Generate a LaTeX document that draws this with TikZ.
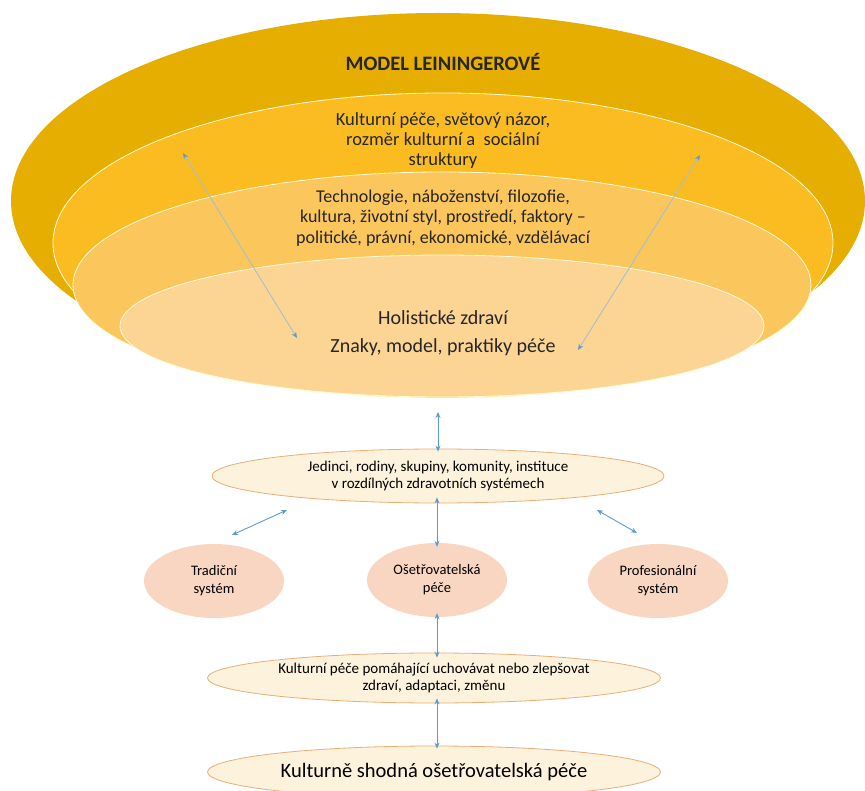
\documentclass[tikz,border=0pt]{standalone}
\usepackage{fontspec}
\setmainfont{Carlito}
\usetikzlibrary{shapes.geometric,arrows.meta}
\definecolor{gold1}{HTML}{E5AE00}
\definecolor{gold2}{HTML}{FBBC22}
\definecolor{gold3}{HTML}{FBC65C}
\definecolor{gold4}{HTML}{FCD595}
\definecolor{cream}{HTML}{FDF2DC}
\definecolor{creamline}{HTML}{E9AE78}
\definecolor{peach}{HTML}{F8D6C1}
\definecolor{arrowblue}{HTML}{5B9BD5}
\definecolor{arrowgray}{HTML}{A7BFCB}
\tikzset{
  layer/.style={ellipse, inner sep=0pt, draw=white!85!yellow, line width=0.8pt},
  creamell/.style={ellipse, inner sep=0pt, fill=cream, draw=creamline, line width=0.8pt, align=center},
  peachell/.style={ellipse, inner sep=0pt, fill=peach, minimum width=140pt, minimum height=74pt, font=\fontsize{14.5}{18}\selectfont, align=center},
  txt/.style={align=center, text=black!85, inner sep=0pt},
  biarrow/.style={arrowblue, line width=0.9pt, {Stealth[length=6pt,width=5pt]}-{Stealth[length=6pt,width=5pt]}},
  diagarrow/.style={arrowgray, line width=0.9pt, {Stealth[length=6pt,width=5pt,arrowblue]}-{Stealth[length=6pt,width=5pt,arrowblue]}},
}
\begin{document}
\begin{tikzpicture}[x=1pt,y=-1pt]
\useasboundingbox (0,0) rectangle (865,791);
% nested ellipses
\node[layer, fill=gold1, draw=none, minimum width=854pt, minimum height=376pt] (outer) at (438,201) {};
\node[layer, fill=gold2, minimum width=780pt, minimum height=300pt] (second) at (443,243) {};
\node[layer, fill=gold3, minimum width=738pt, minimum height=226pt] (third) at (442,285) {};
\node[layer, fill=gold4, minimum width=644pt, minimum height=142pt] (pale) at (442,326) {};
% texts
\node[txt, font=\bfseries\fontsize{20.5}{24}\selectfont] (title) at (443,62) {MODEL LEININGEROVÉ};
\node[txt, font=\fontsize{18.5}{20}\selectfont] (t1) at (443,141) {Kulturní péče, světový názor,\\rozměr kulturní a\ \ sociální\\struktury};
\node[txt, font=\fontsize{18}{20.5}\selectfont] (t2) at (443,218) {Technologie, náboženství, filozofie,\\kultura, životní styl, prostředí, faktory –\\politické, právní, ekonomické, vzdělávací};
\node[txt, font=\fontsize{20}{22}\selectfont] (t3) at (443,318) {Holistické zdraví};
\node[txt, font=\fontsize{20}{22}\selectfont] (t4) at (443,347) {Znaky, model, praktiky péče};
% diagonal arrows
\coordinate (la) at (183,153);
\coordinate (lb) at (297,338);
\coordinate (ra) at (700,155);
\coordinate (rb) at (578,350);
\draw[diagarrow] (la) -- (lb);
\draw[diagarrow] (ra) -- (rb);
% lower nodes
\node[creamell, minimum width=452pt, minimum height=54pt, font=\fontsize{15}{16.5}\selectfont] (jed) at (438,476) {Jedinci, rodiny, skupiny, komunity, instituce\\v rozdílných zdravotních systémech};
\node[peachell] (trad) at (214,581) {Tradiční\\systém};
\node[peachell] (ose) at (437,580) {Ošetřovatelská\\péče};
\node[peachell] (prof) at (658,581) {Profesionální\\systém};
\node[creamell, minimum width=453pt, minimum height=50pt, font=\fontsize{15}{16.5}\selectfont] (kpp) at (434,678) {Kulturní péče pomáhající uchovávat nebo zlepšovat\\zdraví, adaptaci, změnu};
\node[creamell, minimum width=453pt, minimum height=52pt, font=\fontsize{20.5}{22}\selectfont] (kso) at (434,772) {Kulturně shodná ošetřovatelská péče};
% connectors
\coordinate (vtop) at (438,412);
\draw[biarrow] (vtop) -- ([yshift=-3pt]jed.north);
\draw[biarrow] (287,510) -- (232,535);
\draw[biarrow] ([yshift=6pt]jed.south -| ose.north) -- ([yshift=-4pt]ose.north);
\draw[biarrow] (597,510) -- (637,533);
\draw[biarrow] ([yshift=4pt]ose.south) -- ([yshift=-5pt]kpp.north -| ose.south);
\draw[biarrow] ([yshift=5pt]kpp.south -| ose.south) -- ([yshift=-3pt]kso.north -| ose.south);
\end{tikzpicture}
\end{document}
